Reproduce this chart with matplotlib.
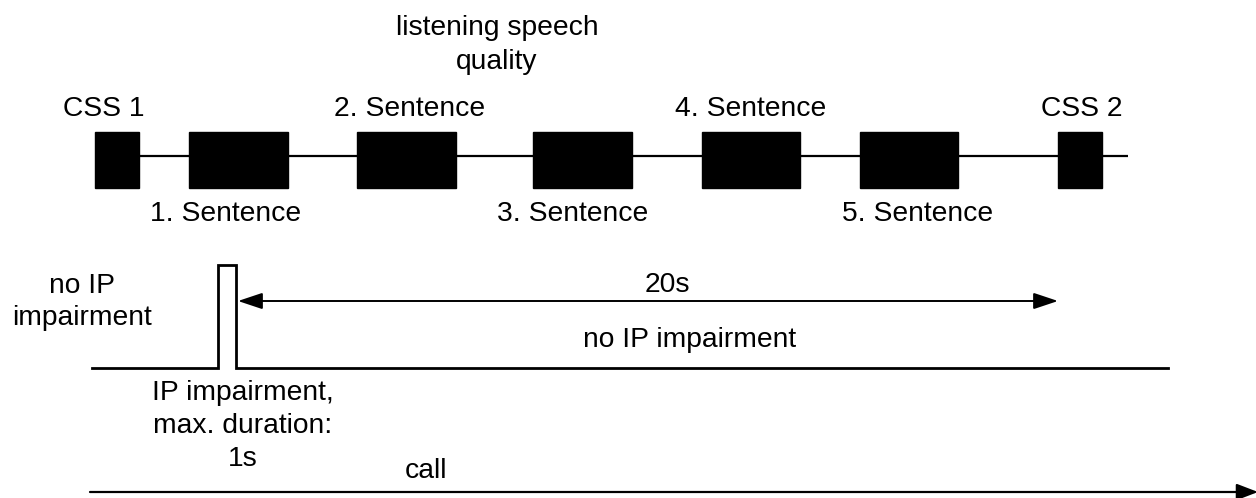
import matplotlib.pyplot as plt
from matplotlib.patches import Rectangle, FancyArrowPatch

plt.rcParams['font.family'] = ['Liberation Sans', 'DejaVu Sans']

# timeline of the test call (pixel scale of the sketch)
block_labels = ['CSS 1', '1. Sentence', '2. Sentence', '3. Sentence',
                '4. Sentence', '5. Sentence', 'CSS 2']
block_start = [95, 189, 357, 533, 702, 860, 1058]
block_end = [139, 288, 456, 632, 800, 958, 1102]
label_above = [True, False, True, False, True, False, True]

timeline_start, timeline_end = 95, 1128
pulse_x = [92, 218, 218, 236, 236, 1168]
pulse_y = [368, 368, 265, 265, 368, 368]

fig = plt.figure(figsize=(12.56, 4.98), dpi=100)
ax = fig.add_axes([0, 0, 1, 1])
ax.set_xlim(0, 1256)
ax.set_ylim(498, 0)
ax.axis('off')

fs = 20.3
# label centres are not exactly the block centres in the sketch
label_x = [104, 226, 410, 573, 751, 918, 1082]

# sentence timeline
ax.plot([timeline_start, timeline_end], [156, 156], color='black', lw=1.6,
        solid_capstyle='butt')
for lab, s, e, up, lx in zip(block_labels, block_start, block_end,
                             label_above, label_x):
    ax.add_patch(Rectangle((s, 132), e - s, 56, color='black', zorder=3))
    y = 116 if up else 221
    ax.text(lx, y, lab, ha='center', va='baseline', fontsize=fs)

ax.text(497, 35, 'listening speech', ha='center', va='baseline', fontsize=fs)
ax.text(497, 69, 'quality', ha='center', va='baseline', fontsize=fs)

# impairment pulse
ax.plot(pulse_x, pulse_y, color='black', lw=2.0, solid_joinstyle='miter')

ax.text(82, 293, 'no IP', ha='center', va='baseline', fontsize=fs)
ax.text(82, 325, 'impairment', ha='center', va='baseline', fontsize=fs)

ax.text(243, 400, 'IP impairment,', ha='center', va='baseline', fontsize=fs)
ax.text(243, 433, 'max. duration:', ha='center', va='baseline', fontsize=fs)
ax.text(243, 466, '1s', ha='center', va='baseline', fontsize=fs)

ax.text(690, 347, 'no IP impairment', ha='center', va='baseline', fontsize=fs)

# 20 s span
arr = FancyArrowPatch((238, 301), (1058, 301),
                      arrowstyle='<|-|>,head_length=15,head_width=5',
                      mutation_scale=1, shrinkA=0, shrinkB=0,
                      color='black', lw=1.4)
ax.add_patch(arr)
ax.text(667, 292, '20s', ha='center', va='baseline', fontsize=fs)

# call arrow
arr2 = FancyArrowPatch((90, 492), (1258, 492),
                       arrowstyle='-|>,head_length=13,head_width=5',
                       mutation_scale=1, shrinkA=0, shrinkB=0,
                       color='black', lw=1.6)
ax.add_patch(arr2)
ax.text(426, 478, 'call', ha='center', va='baseline', fontsize=fs)

fig.savefig('out.png', dpi=100)
